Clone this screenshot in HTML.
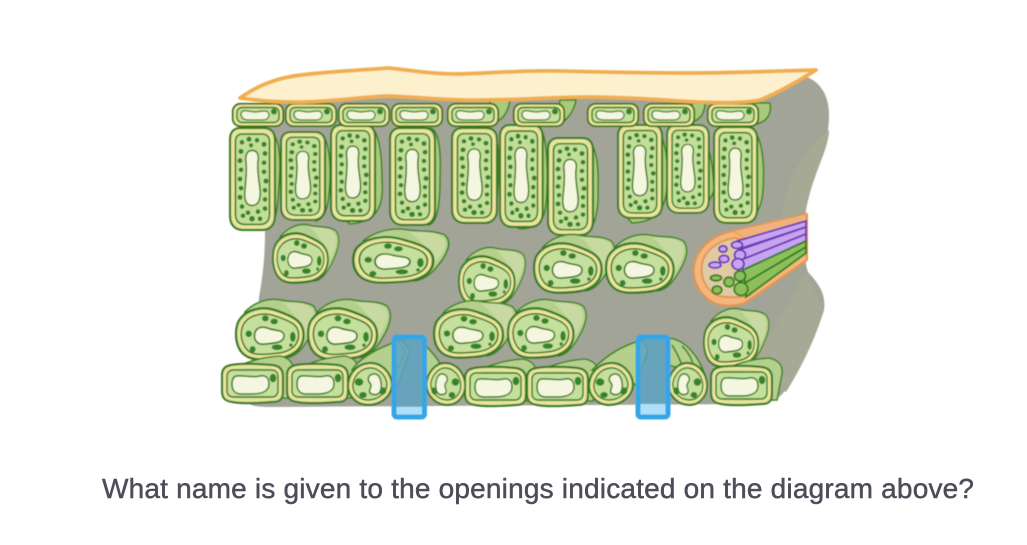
<!DOCTYPE html>
<html><head><meta charset="utf-8"><style>
html,body{margin:0;padding:0;background:#fff;width:1027px;height:545px;overflow:hidden}
svg{display:block}
</style></head><body>
<svg width="1027" height="545" viewBox="0 0 1027 545">
<defs>
<filter id="b" x="-5%" y="-5%" width="110%" height="110%"><feGaussianBlur stdDeviation="0.45"/></filter>
<g id="pal">
<path d="M10,0H34C41,0 45,4 45,12V86C45,95 40,100 32,100H13C5,100 0,95 0,86V11C0,4 4,0 10,0Z" fill="#c3de98" stroke="#37771f" stroke-width="2"/>
<path d="M11,3H33C39,3 42,7 42,13V85C42,93 38,97 31,97H14C7,97 3,93 3,85V12C3,6 6,3 11,3Z" fill="none" stroke="#f5e29a" stroke-width="2.400"/>
<path d="M12,6H32C37,6 39.500,9 39.500,14V84C39.500,91 36,94.500 30,94.500H15C9,94.500 5.500,91 5.500,84V13C5.500,9 8,6 12,6Z" fill="#c3de98" stroke="#37771f" stroke-width="1.500"/>
<path d="M22,22C28,22 29,27 28,33C27,42 29,50 30,60C31,71 28,76 22,76C16,76 14,71 15,60C16,50 17,42 16,33C15,27 17,22 22,22Z" fill="#f4f6df" stroke="#37771f" stroke-width="1.500"/>
<g fill="#37822a"><circle cx="12" cy="14" r="2.300"/><circle cx="19" cy="11" r="2.500"/><circle cx="27" cy="12" r="2.300"/><circle cx="34" cy="16" r="2.500"/><circle cx="11" cy="23" r="2.500"/><circle cx="21" cy="17" r="2"/><circle cx="35" cy="25" r="2.400"/><circle cx="10" cy="32" r="2.500"/><circle cx="34" cy="34" r="2.300"/><circle cx="11" cy="41" r="2.300"/><circle cx="34" cy="43" r="2.300"/><circle cx="10" cy="50" r="2.400"/><circle cx="36" cy="52" r="2.500"/><circle cx="11" cy="59" r="2.300"/><circle cx="35" cy="61" r="2.300"/><circle cx="10" cy="68" r="2.500"/><circle cx="35" cy="70" r="2.300"/><circle cx="12" cy="77" r="2.300"/><circle cx="35" cy="79" r="2.300"/><circle cx="18" cy="83" r="2.300"/><circle cx="28" cy="82" r="2.300"/><circle cx="13" cy="86" r="2.300"/><circle cx="22" cy="89" r="2.800"/><circle cx="30" cy="89" r="2.300"/></g>
</g>
<g id="epi">
<rect x=".8" y=".8" width="50.400" height="22.400" rx="7.500" fill="#c5df9c" stroke="#37771f" stroke-width="1.900"/>
<rect x="2.800" y="2.800" width="46.400" height="18.400" rx="6" fill="none" stroke="#f5e29a" stroke-width="2"/>
<rect x="5" y="4.500" width="42" height="15" rx="5" fill="#c5df9c" stroke="#37771f" stroke-width="1.400"/>
<path d="M11,8C15,7 18,9 23,9C28,9 32,7 35,8.500C39,11 37,17 31,17H16C9,17 7,10 11,8Z" fill="#f4f6df" stroke="#37771f" stroke-width="1.300"/>
<circle cx="42" cy="8.500" r="3" fill="#37822a"/>
</g>
<g id="spb">
<path d="M10,6C20,-4 34,-8 46,-6C58,-3 70,-6 80,0C87,8 82,20 76,30C70,40 64,48 54,50L30,30Z" fill="#b5d08c" stroke="#3f8428" stroke-width="1.600"/>
<path d="M48,-4C58,-3 68,-5 78,2C84,10 78,20 72,30C68,18 60,6 48,-4Z" fill="#c8d9a2"/>
</g>
<g id="sp">
<use href="#spb"/>
<path d="M3,16C10,3 28,-1 44,5C58,10 70,14 70,28C70,42 58,50 42,51C28,52 14,54 6,44C0,36 0,24 3,16Z" fill="#c5df9c" stroke="#37771f" stroke-width="2.200"/>
<path d="M6,18C12,7 28,3 43,8C55,12 67,16 67,28C67,40 56,47 42,48C28,49 16,51 9,42C4,35 3,25 6,18Z" fill="none" stroke="#f5e29a" stroke-width="2.300"/>
<path d="M8,19C13,9 28,5 42,10C54,14 65,17 65,28C65,39 55,45 42,46C29,47 17,49 11,41C6,34 5,26 8,19Z" fill="#c5df9c" stroke="#37771f" stroke-width="1.500"/>
<path d="M20,27C22,19 30,20 35,22C41,24 50,23 50,29C50,36 40,36 30,37C23,38 19,33 20,27Z" fill="#f4f6df" stroke="#37771f" stroke-width="1.600"/>
<g fill="#37822a"><ellipse cx="31" cy="12" rx="3.400" ry="3"/><ellipse cx="40" cy="15" rx="3.800" ry="2.800"/><circle cx="14" cy="27" r="3.200"/><circle cx="18" cy="42" r="3"/><ellipse cx="43" cy="40" rx="5.500" ry="2.800"/><ellipse cx="59" cy="30" rx="2.800" ry="5"/><circle cx="57" cy="38" r="1.700"/></g>
</g>
<g id="low">
<path d="M5,12C12,0 40,-7 58,-8C68,-6 72,0 71,8L66,34L30,34Z" fill="#b5d08c" stroke="#3f8428" stroke-width="1.600"/>
<path d="M9,1C22,-1 40,0 51,1C58,2 61,6 61,12V28C61,35 58,38 51,38C38,39 20,40 10,38C3,37 0,34 0,27V11C0,5 3,2 9,1Z" fill="#c5df9c" stroke="#37771f" stroke-width="2"/>
<path d="M9,4C22,2 40,3 51,4C56,5 58,8 58,13V27C58,33 56,35 51,35C38,36 20,37 10,35C5,34 3,32 3,27V11C3,7 5,5 9,4Z" fill="none" stroke="#f5e29a" stroke-width="2"/>
<rect x="5" y="6" width="51" height="27" rx="6" fill="#c5df9c" stroke="#37771f" stroke-width="1.400"/>
<path d="M14,12C22,11 30,14 38,12C44,11 47,14 47,20C47,27 40,30 30,30H19C13,30 10,26 10,20C10,16 11,13 14,12Z" fill="#f4f6df" stroke="#37771f" stroke-width="1.500"/>
<ellipse cx="51" cy="14" rx="3.300" ry="4.300" fill="#37822a"/>
</g>
<g id="gd">
<path d="M22,1C34,0 44,10 45,22C45,34 34,43 21,43C9,43 0,33 1,22C2,11 10,2 22,1Z" fill="#c5df9c" stroke="#37771f" stroke-width="2"/>
<path d="M22,4C32,3 41,12 42,22C42,32 32,40 21,40C11,40 3,32 4,22C5,13 12,5 22,4Z" fill="none" stroke="#f5e29a" stroke-width="2"/>
<path d="M22,6C31,5 39,13 40,22C40,31 31,38 21,38C12,38 5,31 6,22C7,14 13,7 22,6Z" fill="#c5df9c" stroke="#37771f" stroke-width="1.400"/>
<path d="M26,12C33,11 35,20 34,27C33,33 27,34 23,31C21,27 26,25 23,21C20,18 21,13 26,12Z" fill="#f4f6df" stroke="#37771f" stroke-width="1.500"/>
<g fill="#37822a"><ellipse cx="12" cy="20" rx="4.300" ry="3.800"/><ellipse cx="16" cy="33" rx="3.800" ry="3"/><ellipse cx="36" cy="29" rx="3.300" ry="3.800" transform="rotate(30 36 29)"/></g>
</g>
</defs>

<g filter="url(#b)">
<path d="M262,95L790,74C815,74 829,90 829,115C829,150 812,175 806,210C804,235 804,262 808,272C820,285 826,295 824,310C812,345 795,375 784,392C776,402 765,404 750,404L270,407C255,407 247,405 245,400C252,360 258,320 259,297C264,270 265,250 265,230Z" fill="#a2a497"/>
<path d="M829,130C805,150 785,175 782,225L806,210C812,175 829,150 829,130Z" fill="#a6aa94"/>
<path d="M806,272C790,300 770,340 745,370L786,392C800,370 815,340 824,310Z" fill="#a5a996"/>

<g fill="#a9ca7c" stroke="#3f8428" stroke-width="1.600">
<path d="M270,134C280,134 281,160 279,185C278,205 276,225 268,229Z"/>
<path d="M318,132C326,134 331,150 330,180C329,205 326,218 316,221Z"/>
<path d="M370,127C378,130 382,150 382,180C384,205 378,222 350,224L345,220Z"/>
<path d="M430,128C440,130 441,155 440,180C440,210 436,224 428,225Z"/>
<path d="M490,128C498,130 500,155 498,185C497,210 494,222 488,223Z"/>
<path d="M538,126C546,130 548,160 547,190C546,215 544,228 520,229L512,225Z"/>
<path d="M585,138C596,142 599,165 598,190C599,215 592,235 582,236Z"/>
<path d="M650,125C666,130 668,160 667,185C666,210 656,222 632,223L625,215Z"/>
<path d="M690,122C708,130 713,160 714,190C710,205 695,213 680,213Z"/>
<path d="M745,125C762,128 765,160 763,190C762,210 752,224 740,223Z"/>
<path d="M490,96L510,100C508,115 500,122 490,124Z"/>
<path d="M560,100L576,100C574,112 566,122 556,126Z"/>
<path d="M750,103L770,103C772,115 766,122 756,124Z"/>
<path d="M692,103L705,103C705,113 700,120 692,122Z"/>
</g>
<use href="#pal" transform="translate(230,128) scale(1,1.020)"/>
<use href="#pal" transform="translate(281,132) scale(.98,.88)"/>
<use href="#pal" transform="translate(331,125) scale(.98,.96)"/>
<use href="#pal" transform="translate(390,128) scale(1,.97)"/>
<use href="#pal" transform="translate(452,128) scale(1,.95)"/>
<use href="#pal" transform="translate(500,125) scale(.95,1.020)"/>
<use href="#pal" transform="translate(548,138) scale(1,.97)"/>
<use href="#pal" transform="translate(618,125) scale(.98,.93)"/>
<use href="#pal" transform="translate(667,125) scale(.93,.88)"/>
<use href="#pal" transform="translate(714,127) scale(.96,.96)"/>

<use href="#epi" transform="translate(232,103)"/>
<use href="#epi" transform="translate(285,103)"/>
<use href="#epi" transform="translate(338,103)"/>
<use href="#epi" transform="translate(391,103)"/>
<use href="#epi" transform="translate(447,103)"/>
<use href="#epi" transform="translate(513,103)"/>
<use href="#epi" transform="translate(587,103)"/>
<use href="#epi" transform="translate(643,103)"/>
<use href="#epi" transform="translate(707,103)"/>

<path d="M240,98C252,90 262,84 280,79C300,73 350,71 388,68C410,70 430,74 455,74C480,74 520,70 560,71C600,72 640,73 690,73C730,73 780,71 816,70C800,80 780,92 760,100C740,104 710,103 680,101C650,99 620,97 590,97C550,97 520,100 480,100C450,101 420,97 388,96C360,97 320,103 290,102C270,102 255,100 240,98Z" fill="#fdf0cd" stroke="#f0ae50" stroke-width="3.800" stroke-linejoin="round"/>

<use href="#sp" transform="translate(272,231) scale(.8,1)"/>
<use href="#sp" transform="translate(352,235) scale(1.160,.92)"/>
<use href="#sp" transform="translate(458,254) scale(.81,1)"/>
<use href="#sp" transform="translate(533,241) scale(.98,1)"/>
<use href="#sp" transform="translate(605,241) scale(.98,1)"/>
<use href="#sp" transform="translate(235,306) scale(.98,1.030)"/>
<use href="#sp" transform="translate(307,306) scale(1,1.030)"/>
<use href="#sp" transform="translate(433,307) scale(1,.98)"/>
<use href="#sp" transform="translate(507,306) scale(.95,1)"/>
<use href="#sp" transform="translate(703,315) scale(.79,1)"/>

<use href="#low" transform="translate(222,364)"/>
<use href="#low" transform="translate(287,364)"/>
<use href="#low" transform="translate(465,367)"/>
<use href="#low" transform="translate(527,367)"/>
<use href="#low" transform="translate(711,366)"/>

<g fill="#b5d08c" stroke="#3f8428" stroke-width="1.600">
<path d="M352,370C362,355 385,345 402,340L410,350L398,385L380,375Z"/>
<path d="M425,345C440,360 446,370 440,380L425,380Z"/>
<path d="M592,370C610,352 625,345 642,340L648,350L636,385L620,375Z"/>
<path d="M669,338C685,340 698,355 705,375L680,368L668,365Z"/>
<path d="M672,345C676,352 680,358 682,366M682,346C688,352 692,358 694,368" fill="none"/>
</g>
<use href="#gd" transform="translate(347,362)"/>
<use href="#gd" transform="translate(588,362)"/>
<use href="#gd" transform="translate(466,362) scale(-.88,1)"/>
<use href="#gd" transform="translate(708,362) scale(-.88,1)"/>

<path d="M733,231C715,234 702,245 696,258C690,275 696,292 712,302C722,307 738,307 748,301L807,260V214Z" fill="#f4b67c" stroke="#e4944a" stroke-width="2"/>
<path d="M733,231L806,214V222L748,240Z" fill="#efb27e" stroke="#e4944a" stroke-width="1"/>
<path d="M735,238C720,240 708,248 703,260C699,274 704,288 716,295C724,298 740,298 750,295C748,278 748,255 746,240Z" fill="#dfcaa4" stroke="#e4944a" stroke-width="1.800"/>
<g stroke="#6f35b8" stroke-width="1.800" fill="#c5a4f0">
<path d="M737,241L806,221V227L739,249Z"/>
<path d="M739,250L806,227V234L741,260Z"/>
<path d="M741,260L806,234V241L743,270Z"/>
<ellipse cx="737" cy="245" rx="5.500" ry="3.500"/><ellipse cx="740" cy="255" rx="5.500" ry="5"/><ellipse cx="738" cy="264" rx="6" ry="5.500"/>
<ellipse cx="723" cy="249" rx="4" ry="3.200"/><ellipse cx="724" cy="259" rx="4.800" ry="3.600"/><ellipse cx="715" cy="265" rx="6" ry="3"/>
</g>
<g stroke="#2f7d20" stroke-width="1.800" fill="#8dc05a">
<path d="M743,270L806,241V247L745,283Z"/>
<path d="M745,283L806,247V253L746,297Z"/>
<ellipse cx="740" cy="276" rx="5.500" ry="5.200"/><ellipse cx="729" cy="282" rx="5" ry="4.800"/><ellipse cx="741" cy="289" rx="6.800" ry="6.500"/>
<ellipse cx="716" cy="278" rx="5.500" ry="2.800"/><ellipse cx="717" cy="290" rx="4.800" ry="4"/>
</g>

<path d="M396,340C404,346 407,352 402,360C398,366 396,370 396,376" fill="none" stroke="#3f9a8a" stroke-width="1.300"/>
<path d="M640,340C648,346 651,352 646,360C642,366 640,370 640,376" fill="none" stroke="#3f9a8a" stroke-width="1.300"/>

<rect x="394.500" y="337.500" width="30" height="79" rx="3" fill="#5ea3c2" fill-opacity=".85"/>
<rect x="638.500" y="337.500" width="29" height="79" rx="3" fill="#5ea3c2" fill-opacity=".85"/>
<rect x="396" y="407" width="27" height="8" fill="#aee0fb"/>
<rect x="640" y="404" width="26" height="11" fill="#aee0fb"/>
<rect x="394" y="337" width="30.500" height="80" rx="3" fill="none" stroke="#36a6e5" stroke-width="5"/>
<rect x="638" y="337" width="30" height="80" rx="3" fill="none" stroke="#36a6e5" stroke-width="5"/>
</g>

<text x="102" y="498" font-family="'Liberation Sans',sans-serif" font-size="28" fill="#4c4d58" stroke="#4c4d58" stroke-width=".45" textLength="872" lengthAdjust="spacing">What name is given to the openings indicated on the diagram above?</text>
</svg>
</body></html>
